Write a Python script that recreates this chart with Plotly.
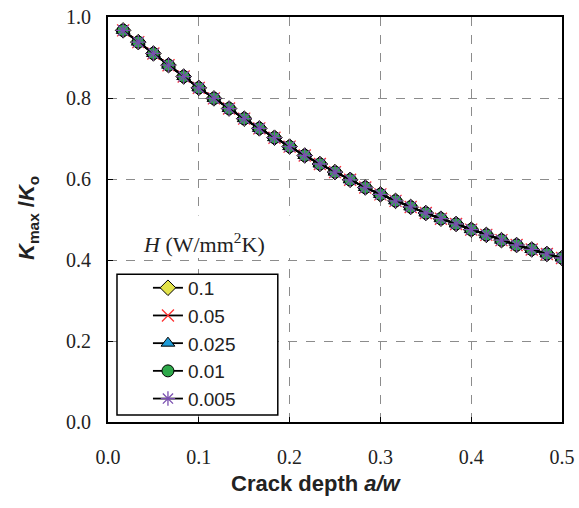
import plotly.graph_objects as go

crack_depth = [k / 60 for k in range(1, 31)]
k_ratio = [0.967, 0.938, 0.910, 0.881, 0.853, 0.825, 0.799, 0.774, 0.749, 0.725,
           0.702, 0.680, 0.658, 0.637, 0.617, 0.598, 0.579, 0.562, 0.546, 0.531,
           0.516, 0.502, 0.489, 0.475, 0.462, 0.449, 0.437, 0.426, 0.415, 0.405]
h_values = ["0.1", "0.05", "0.025", "0.01", "0.005"]
symbols = ["diamond", "x-thin", "triangle-up", "circle", "asterisk"]
fills = ["#E3E34A", "#FF3333", "#1E9BD7", "#2EA84A", "#7A4FB0"]

fig = go.Figure()
for name, sym, col in zip(h_values, symbols, fills):
    thin = sym in ("x-thin", "asterisk")
    fig.add_trace(go.Scatter(
        x=crack_depth, y=k_ratio, name=name, mode="lines+markers",
        line=dict(color="black", width=1.8),
        marker=dict(symbol=sym, size=12, color=col,
                    line=dict(color=col if thin else "black", width=1.3 if thin else 1)),
    ))

common = dict(showgrid=True, gridcolor="#8c8c8c", griddash="dash", gridwidth=1,
              showline=True, linecolor="black", linewidth=2, mirror=True,
              ticks="inside", ticklen=5, tickcolor="black", tickwidth=1,
              tickfont=dict(family="Liberation Serif", size=20, color="#222"),
              zeroline=False, tickformat=".1f", automargin=False)

fig.update_xaxes(range=[0, 0.5], dtick=0.1, ticklabelstandoff=16, **common)
fig.update_yaxes(range=[0, 1.0], dtick=0.2, ticklabelstandoff=11, **common)

fig.update_layout(
    width=579, height=508,
    margin=dict(l=108, r=17, t=17, b=86),
    plot_bgcolor="white", paper_bgcolor="white",
    showlegend=True,
    legend=dict(x=0.088, y=0.378, xanchor="left", yanchor="top",
                bgcolor="rgba(0,0,0,0)", borderwidth=0,
                font=dict(family="Liberation Sans", size=19, color="#222")),
    shapes=[
        dict(type="rect", xref="paper", yref="paper", x0=0.004, x1=0.405, y0=0.405, y1=0.51,
             fillcolor="white", line=dict(width=0), layer="above"),
        dict(type="rect", xref="paper", yref="paper", x0=0.0198, x1=0.374, y0=0.0173, y1=0.365,
             fillcolor="white", line=dict(color="black", width=1.5), layer="above"),
    ],
    annotations=[
        dict(text="<i>H</i> (W/mm<sup>2</sup>K)", xref="paper", yref="paper",
             x=(204 - 108) / 454, y=(422 - 243) / 405, xanchor="center", yanchor="middle",
             showarrow=False, font=dict(family="Liberation Serif", size=22, color="#222")),
        dict(text="<b>Crack depth <i>a/w</i></b>", xref="paper", yref="paper",
             x=(316 - 108) / 454, y=-(483 - 422) / 405, xanchor="center", yanchor="middle",
             showarrow=False, font=dict(family="Liberation Sans", size=22, color="#222")),
        dict(text="<b><i>K</i><sub>max</sub> /<i>K</i><sub>o</sub></b>", xref="paper", yref="paper",
             x=-(108 - 28) / 454, y=(422 - 218) / 405, xanchor="center", yanchor="middle",
             textangle=-90, showarrow=False,
             font=dict(family="Liberation Sans", size=22, color="#222")),
    ],
)

fig.write_html("out.html")
